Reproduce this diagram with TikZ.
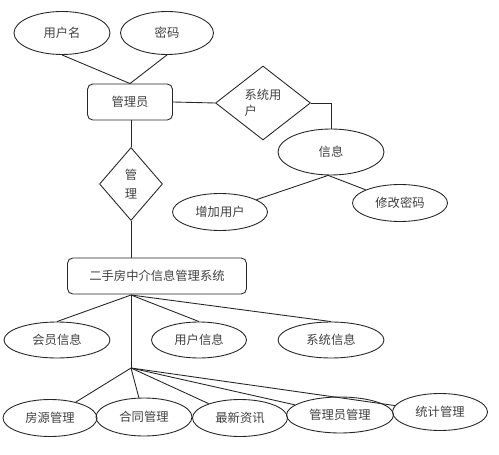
\documentclass[tikz,border=0pt]{standalone}
\usepackage{fontspec}
\setmainfont{Noto Sans CJK SC}
\usetikzlibrary{shapes.geometric}

\begin{document}
\begin{tikzpicture}[x=0.02cm,y=-0.02cm,
  every node/.style={font=\fontsize{7}{9}\selectfont,text=black!75},
  attr/.style={draw=black!85,ellipse,inner sep=0pt,minimum width=1.9cm,minimum height=0.74cm},
  ent/.style={draw=black!85,rounded corners=3pt,inner sep=0pt,minimum height=0.72cm},
  rel/.style={draw=black!85,diamond,inner sep=0pt,aspect=1},
  line width=0.5pt,draw=black!85]
\useasboundingbox (0,0) rectangle (499,455);

% administrator and its attributes
\node[attr,minimum width=1.92cm,minimum height=0.86cm] (uname) at (62,33) {用户名};
\node[attr,minimum width=1.86cm,minimum height=0.86cm] (pwd) at (167,33) {密码};
\node[ent,minimum width=1.7cm] (admin) at (130,102) {管理员};
\draw (uname.south) -- (admin.north);
\draw (pwd.south) -- (admin.north);

% system user relation
\node[rel,minimum width=1.9cm,minimum height=1.48cm,align=left] (sysuser) at (263,103) {系统用\\户};
\node[attr,minimum width=2.12cm,minimum height=0.92cm] (info) at (331,152) {信息};
\node[attr] (adduser) at (220,212) {增加用户};
\node[attr] (chpwd) at (400,203) {修改密码};
\draw (admin.east) -- (sysuser.west);
\draw (sysuser.east) -| (info.north);
\draw (info.263) -- (adduser);
\draw (info.263) -- (chpwd);

% manage relation
\node[rel,minimum width=1.26cm,minimum height=1.46cm,align=center] (manage) at (131,184) {管\\[2pt]理};
\node[ent,minimum width=3.58cm] (system) at (157,276) {二手房中介信息管理系统};
\draw (admin.south -| manage.north) -- (manage.north);
\draw (manage.south) -- (manage.south |- system.north);

% first row of information
\coordinate (top) at (131,295);
\coordinate (fan) at (131,368);
\node[attr,minimum width=2.12cm,minimum height=0.72cm] (member) at (57,340) {会员信息};
\node[attr,minimum height=0.72cm] (userinfo) at (199,340) {用户信息};
\node[attr,minimum width=2.12cm,minimum height=0.72cm] (sysinfo) at (331,340) {系统信息};
\draw (top) -- (member.north);
\draw (top) -- (userinfo.north);
\draw (top) -- (sysinfo.north);
\draw (top) -- (fan);

% second row of functions
\node[attr,minimum width=1.88cm] (house) at (50,418) {房源管理};
\node[attr,minimum width=1.92cm,minimum height=0.76cm] (contract) at (144,417) {合同管理};
\node[attr] (news) at (240,418) {最新资讯};
\node[attr,minimum width=2.14cm,minimum height=0.72cm] (adminmgr) at (340,415) {管理员管理};
\node[attr] (stat) at (440,412) {统计管理};
\foreach \n in {house,contract,news,adminmgr,stat}
  \draw (fan) -- (\n);

\end{tikzpicture}
\end{document}
